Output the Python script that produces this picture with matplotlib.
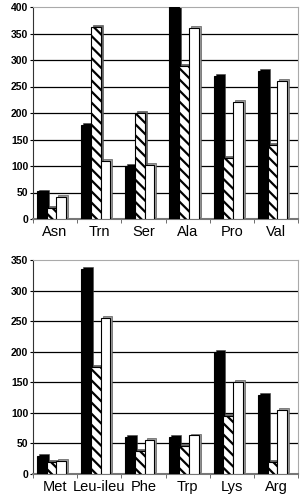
import matplotlib.pyplot as plt
import numpy as np

plt.rcParams['font.family'] = ['Liberation Sans', 'DejaVu Sans']
plt.rcParams['hatch.linewidth'] = 1.6

top_cats = ['Asn', 'Trn', 'Ser', 'Ala', 'Pro', 'Val']
top_black = [52, 177, 100, 400, 270, 280]
top_hatch = [20, 363, 200, 288, 115, 140]
top_white = [41, 110, 102, 360, 220, 260]

bot_cats = ['Met', 'Leu-ileu', 'Phe', 'Trp', 'Lys', 'Arg']
bot_black = [30, 335, 60, 60, 200, 130]
bot_hatch = [19, 175, 38, 46, 95, 20]
bot_white = [22, 255, 56, 63, 150, 105]


def panel(ax, cats, series, ymax):
    x = np.arange(len(cats))
    w = 0.22
    dx = 0.045
    dy = ymax / 110.0
    ax.set_xlim(-0.5, len(cats) - 0.5)
    ax.set_ylim(0, ymax)
    # horizontal grid (top edge is the grey frame)
    for g in range(50, ymax, 50):
        ax.axhline(g, color='black', lw=0.9, zorder=0)
    styles = [('black', None, 'black'), ('white', '\\\\\\', '#666666'), ('white', None, '#999999')]
    for i, (vals, (fc, hatch, side)) in enumerate(zip(series, styles)):
        pos = x - 0.08 + (i - 1) * w
        # side/top face for 3d look
        ax.bar(pos + dx, vals, w, bottom=dy, color=side, edgecolor='#444444',
               lw=0.4, align='center', zorder=2 + i * 2)
        ax.bar(pos, vals, w, color=fc, hatch=hatch, edgecolor='black',
               lw=0.8, align='center', zorder=3 + i * 2)
    ax.set_xticks(x)
    ax.set_xticklabels(cats, fontsize=10.5)
    ax.set_xticks(np.arange(len(cats) + 1) - 0.5, minor=True)
    ax.tick_params(axis='x', which='major', length=0, pad=4)
    ax.tick_params(axis='x', which='minor', length=3, color='#555555')
    ax.set_yticks(range(0, ymax + 1, 50))
    ax.tick_params(axis='y', labelsize=7.5, length=2.5, pad=1)
    for lab in ax.get_yticklabels():
        lab.set_fontweight('bold')
    for s in ['top', 'right']:
        ax.spines[s].set_color('#aaaaaa')
    ax.spines['bottom'].set_color('#777777')
    ax.spines['bottom'].set_linewidth(1.5)
    ax.spines['left'].set_color('#333333')


fig = plt.figure(figsize=(3.06, 4.95), dpi=100)
ax1 = fig.add_axes([33 / 306, 276 / 495, 265 / 306, 212 / 495])
ax2 = fig.add_axes([33 / 306, 21 / 495, 265 / 306, 214 / 495])

panel(ax1, top_cats, [top_black, top_hatch, top_white], 400)
panel(ax2, bot_cats, [bot_black, bot_hatch, bot_white], 350)

fig.savefig('out.png', dpi=100)
